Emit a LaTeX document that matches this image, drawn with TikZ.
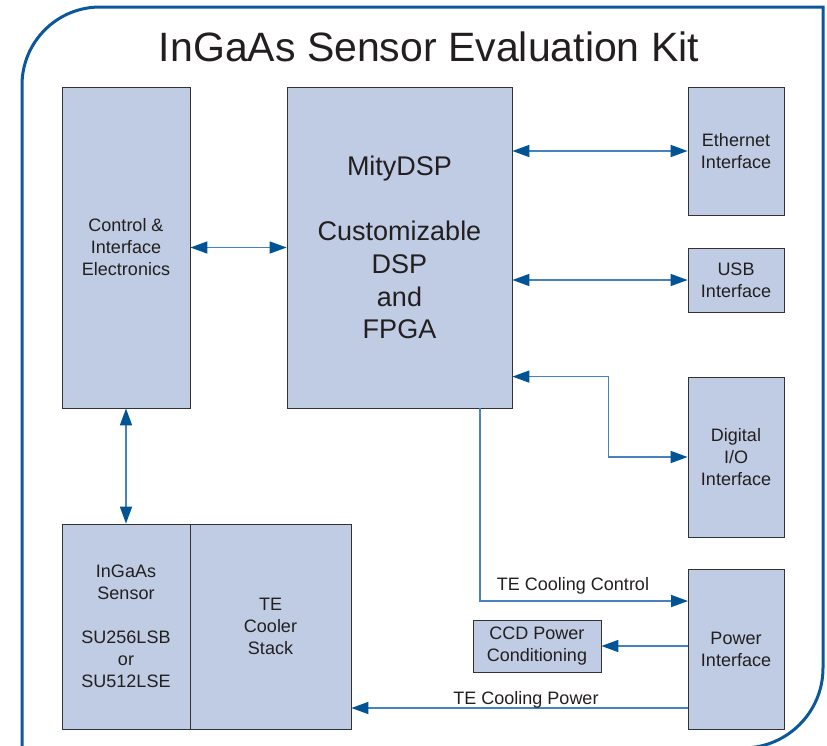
\documentclass[tikz,border=0pt]{standalone}
\usepackage{fontspec}
\setmainfont{Liberation Sans}
\usepackage{tikz}
\usetikzlibrary{arrows.meta}

\definecolor{boxfill}{RGB}{191,204,227}
\definecolor{boxline}{RGB}{51,51,51}
\definecolor{frameblue}{RGB}{10,88,155}
\definecolor{linkblue}{RGB}{70,130,190}
\definecolor{headblue}{RGB}{0,84,150}
\definecolor{ink}{RGB}{35,31,32}

\newcommand{\smallfont}{\fontsize{18}{22}\selectfont}
\newcommand{\bigfont}{\fontsize{27}{32.7}\selectfont}

\begin{document}
\begin{tikzpicture}[x=1pt, y=-1pt,
  >={Triangle[length=17pt, width=12pt, color=headblue]},
  blk/.style={draw=boxline, line width=0.8pt, fill=boxfill, inner sep=0pt, align=center, text=ink, font=\smallfont},
  link/.style={draw=linkblue, line width=1.6pt},
  lbl/.style={text=ink, font=\smallfont, inner sep=0pt}]

\useasboundingbox (0,0) rectangle (827,745);

\draw[frameblue, line width=3pt] (22,748) -- (22,85) arc (180:270:78) -- (823,7) -- (823,668) arc (0:90:80) -- cycle;

\node[text=ink, font=\fontsize{41}{49}\selectfont] (title) at (429,47) {InGaAs Sensor Evaluation Kit};

\node[blk, minimum width=128pt, minimum height=321pt] (ctrl) at (126,247.5) {Control \&\\Interface\\Electronics};
\node[blk, minimum width=225pt, minimum height=321pt, font=\bigfont] (dsp) at (399.5,247.5) {MityDSP\\[32.7pt]Customizable\\DSP\\and\\FPGA};
\node[blk, minimum width=96pt, minimum height=128pt] (eth) at (736,151) {Ethernet\\Interface};
\node[blk, minimum width=96pt, minimum height=64pt] (usb) at (736,280) {USB\\Interface};
\node[blk, minimum width=96pt, minimum height=160pt] (dio) at (736,457) {Digital\\I/O\\Interface};
\node[blk, minimum width=96pt, minimum height=160pt] (pwr) at (736,649) {Power\\Interface};
\node[blk, minimum width=128pt, minimum height=52pt] (ccd) at (537,646) {CCD Power\\Conditioning};
\node[blk, minimum width=128pt, minimum height=205pt] (sens) at (126,626.5) {InGaAs\\Sensor\\[22pt]SU256LSB\\or\\SU512LSE};
\node[blk, minimum width=161pt, minimum height=205pt] (cool) at (270.5,626.5) {TE\\Cooler\\Stack};

\coordinate (ctlout) at (480,408);
\coordinate (ctlin) at (688,601);
\coordinate (pwrout) at (688,708);

\draw[link, <->] (ctrl.east) -- (dsp.west);
\draw[link, <->] (ctrl.south) -- (sens.north);
\draw[link, <->] (dsp.east |- eth.west) -- (eth.west);
\draw[link, <->] (dsp.east |- usb.west) -- (usb.west);
\draw[link, <->] (dsp.east |- dio.north) -- ++(96,0) |- (dio.west);
\draw[link, ->] (ctlout) |- (ctlin);
\draw[link, ->] (pwr.west |- ccd.east) -- (ccd.east);
\draw[link, ->] (pwrout) -- (cool.east |- pwrout);

\node[lbl] (ctltext) at (573,586) {TE Cooling Control};
\node[lbl] (pwrtext) at (526,700) {TE Cooling Power};

\end{tikzpicture}
\end{document}
